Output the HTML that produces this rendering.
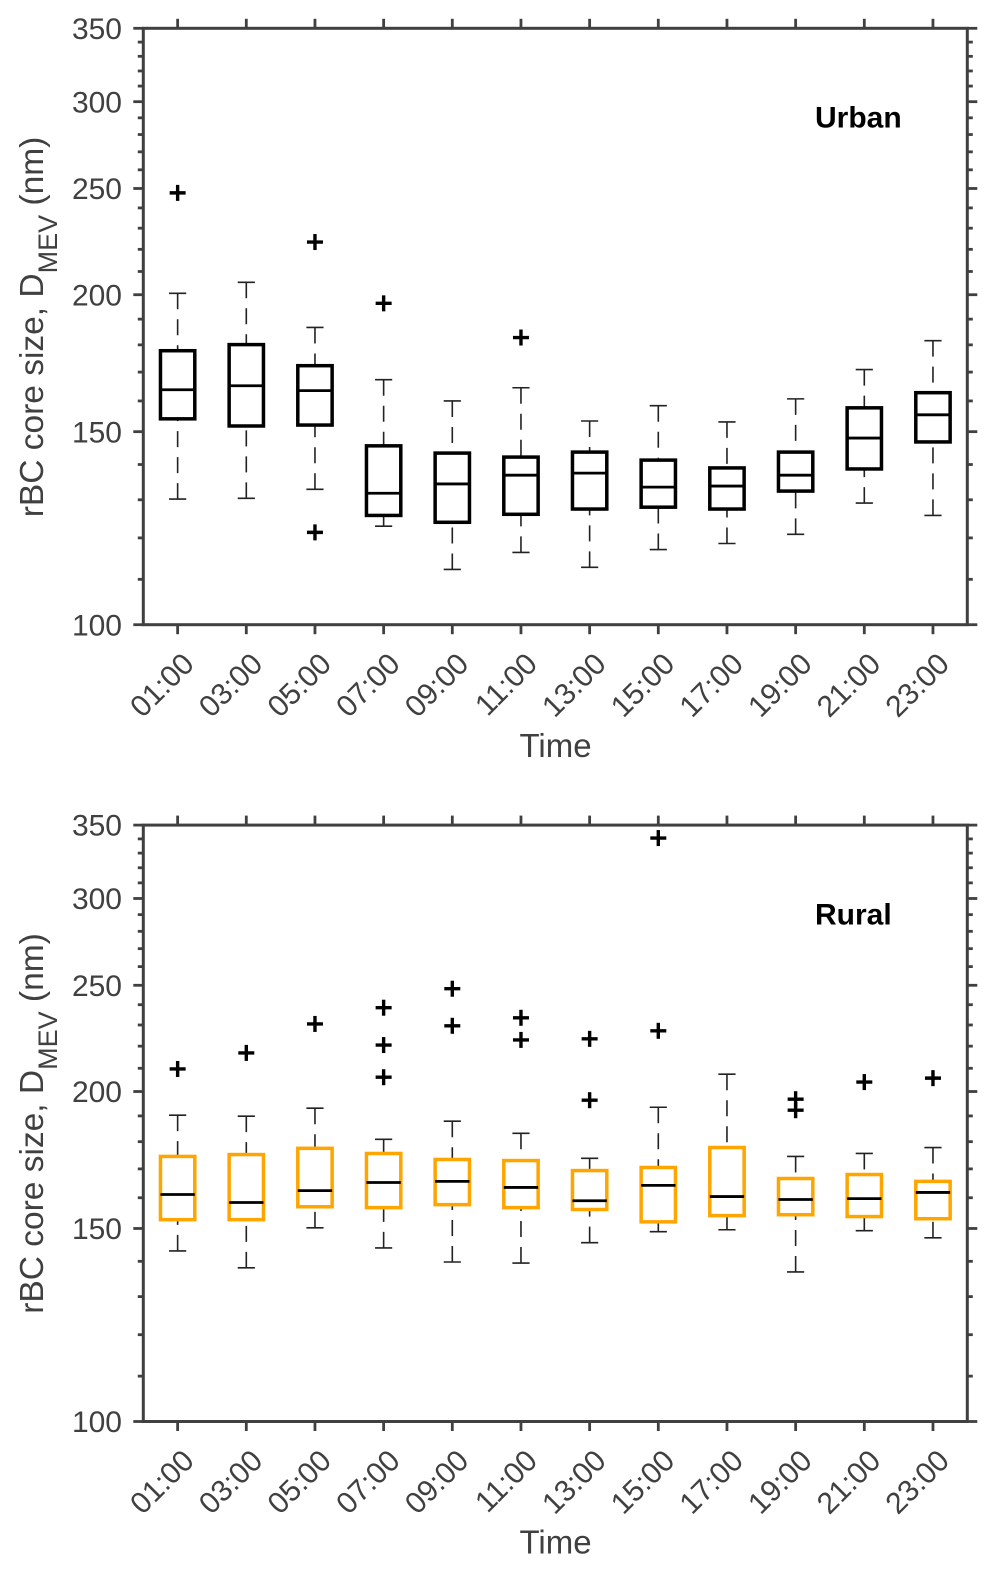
<!DOCTYPE html>
<html lang="en">
<head>
<meta charset="utf-8">
<title>rBC core size by time of day</title>
<style>
html,body{margin:0;padding:0;background:#fff;}
svg{display:block;}
text{font-family:"Liberation Sans",Arial,sans-serif;}
</style>
</head>
<body>
<svg id="figure" xmlns="http://www.w3.org/2000/svg" width="996" height="1573" viewBox="0 0 996 1573">
  <rect x="0" y="0" width="996" height="1573" fill="#ffffff"/>
  <g id="panel-urban">
    <text x="815" y="127.5" font-size="30" font-weight="bold" fill="#000">Urban</text>
    <text x="555.5" y="757" font-size="33" fill="#404040" text-anchor="middle">Time</text>
    <text transform="translate(43,327) rotate(-90)" font-size="33.5" fill="#404040" text-anchor="middle" xml:space="preserve">rBC core size, D<tspan font-size="27" dy="14">MEV</tspan><tspan dy="-14"> (nm)</tspan></text>
  </g>
  <g id="panel-rural">
    <text x="815" y="924.5" font-size="30" font-weight="bold" fill="#000">Rural</text>
    <text x="555.5" y="1553.5" font-size="33" fill="#404040" text-anchor="middle">Time</text>
    <text transform="translate(43,1123.5) rotate(-90)" font-size="33.5" fill="#404040" text-anchor="middle" xml:space="preserve">rBC core size, D<tspan font-size="27" dy="14">MEV</tspan><tspan dy="-14"> (nm)</tspan></text>
  </g>
</svg>
<script>
// Shared axis data
const timeLabels = ["01:00","03:00","05:00","07:00","09:00","11:00","13:00","15:00","17:00","19:00","21:00","23:00"];
const yMajorTicks = [100,150,200,250,300,350];
const yMinorTicks = [110,120,130,140,160,170,180,190,210,220,230,240,260,270,280,290,310,320,330,340];

// Urban series
const urbanWhiskerHigh = [200.6,205.3,186.7,167.3,160.0,164.5,153.4,158.4,153.1,160.7,170.9,181.6];
const urbanQ3 = [177.8,180.1,172.3,145.6,143.4,142.2,143.7,141.3,139.0,143.7,157.7,162.8];
const urbanMedian = [163.8,165.2,163.5,131.8,134.4,136.9,137.5,133.5,133.8,136.9,148.0,155.4];
const urbanQ1 = [154.1,151.8,152.1,125.8,124.0,126.1,127.5,128.0,127.5,132.4,138.7,146.8];
const urbanWhiskerLow = [130.2,130.4,132.9,123.0,112.3,116.4,112.8,117.1,118.6,120.9,129.1,125.8];
const urbanOutliers = [[247.7],[],[223.4,121.4],[196.4],[],[182.8],[],[],[],[],[],[]];

// Rural series
const ruralWhiskerHigh = [190.3,189.9,193.1,180.9,187.9,183.2,173.8,193.5,207.4,174.5,175.6,177.8];
const ruralQ3 = [174.5,175.2,177.5,175.6,173.4,173.0,169.4,170.5,177.8,166.6,168.0,165.6];
const ruralMedian = [161.1,158.4,162.4,165.2,165.6,163.5,159.0,164.2,160.4,159.4,159.7,161.8];
const ruralQ1 = [152.8,152.8,157.0,156.7,157.7,156.7,156.1,152.1,154.1,154.4,153.8,153.1];
const ruralWhiskerLow = [143.1,138.1,150.2,144.0,139.8,139.5,145.6,149.0,149.6,136.9,149.3,147.1];
const ruralOutliers = [[209.7],[216.9],[230.5],[238.5,220.5,206.1],[248.2,229.6],[233.5,222.9],[223.4,196.4],[340.6,227.2],[],[196.8,192.3],[204.0],[205.7]];

const SVG_NS = "http://www.w3.org/2000/svg";
const AXIS_COLOR = "#404040";
const PLOT_LEFT = 143.3;
const PLOT_RIGHT = 967.3;
const PLOT_HEIGHT = 596.4;
const Y_MIN = 100;
const Y_MAX = 350;

function xScale(index) {
  const step = (PLOT_RIGHT - PLOT_LEFT) / timeLabels.length;
  return PLOT_LEFT + step * (index + 0.5);
}

function yScale(value, plotBottom) {
  const frac = Math.log10(value / Y_MIN) / Math.log10(Y_MAX / Y_MIN);
  return plotBottom - frac * PLOT_HEIGHT;
}

function makeLine(parent, x1, y1, x2, y2, stroke, width) {
  const el = document.createElementNS(SVG_NS, "line");
  el.setAttribute("x1", x1);
  el.setAttribute("y1", y1);
  el.setAttribute("x2", x2);
  el.setAttribute("y2", y2);
  el.setAttribute("stroke", stroke);
  el.setAttribute("stroke-width", width);
  parent.appendChild(el);
  return el;
}

function makeGroup(parent) {
  const el = document.createElementNS(SVG_NS, "g");
  parent.appendChild(el);
  return el;
}

function drawAxes(panel, prefix, plotTop, plotBottom) {
  const axes = makeGroup(panel);
  
  

  const frame = document.createElementNS(SVG_NS, "rect");
  frame.setAttribute("x", PLOT_LEFT);
  frame.setAttribute("y", plotTop);
  frame.setAttribute("width", PLOT_RIGHT - PLOT_LEFT);
  frame.setAttribute("height", plotBottom - plotTop);
  frame.setAttribute("fill", "none");
  frame.setAttribute("stroke", AXIS_COLOR);
  frame.setAttribute("stroke-width", "3");
  
  
  axes.appendChild(frame);

  yMajorTicks.forEach(function (value) {
    const y = yScale(value, plotBottom);
    const tickLeft = makeLine(axes, PLOT_LEFT - 10, y, PLOT_LEFT, y, AXIS_COLOR, 2.8);
    
    
    const tickRight = makeLine(axes, PLOT_RIGHT, y, PLOT_RIGHT + 10, y, AXIS_COLOR, 2.8);
    
    
    const label = document.createElementNS(SVG_NS, "text");
    label.setAttribute("x", 122);
    label.setAttribute("y", y + 10.6);
    label.setAttribute("font-size", "30");
    label.setAttribute("fill", AXIS_COLOR);
    label.setAttribute("text-anchor", "end");
    
    
    label.textContent = String(value);
    axes.appendChild(label);
  });

  yMinorTicks.forEach(function (value) {
    const y = yScale(value, plotBottom);
    const minorLeft = makeLine(axes, PLOT_LEFT - 5.5, y, PLOT_LEFT, y, AXIS_COLOR, 2.8);
    
    
    const minorRight = makeLine(axes, PLOT_RIGHT, y, PLOT_RIGHT + 5.5, y, AXIS_COLOR, 2.8);
    
    
  });

  timeLabels.forEach(function (time, i) {
    const x = xScale(i);
    const tickBottom = makeLine(axes, x, plotBottom, x, plotBottom + 9.5, AXIS_COLOR, 2.8);
    
    
    const tickTop = makeLine(axes, x, plotTop - 9.5, x, plotTop, AXIS_COLOR, 2.8);
    
    
    const label = document.createElementNS(SVG_NS, "text");
    label.setAttribute("transform", "translate(" + (x + 18) + "," + (plotBottom + 41) + ") rotate(-45)");
    label.setAttribute("font-size", "30");
    label.setAttribute("fill", AXIS_COLOR);
    label.setAttribute("text-anchor", "end");
    
    
    label.textContent = time;
    axes.appendChild(label);
  });
}

function drawBoxes(panel, prefix, plotBottom, boxColor, low, q1, median, q3, high, outliers) {
  const step = (PLOT_RIGHT - PLOT_LEFT) / timeLabels.length;
  const boxWidth = step * 0.5;
  const capWidth = step * 0.25;
  timeLabels.forEach(function (time, i) {
    const x = xScale(i);
    const group = makeGroup(panel);
    
    

    const yLow = yScale(low[i], plotBottom);
    const yQ1 = yScale(q1[i], plotBottom);
    const yMed = yScale(median[i], plotBottom);
    const yQ3 = yScale(q3[i], plotBottom);
    const yHigh = yScale(high[i], plotBottom);

    const upper = makeLine(group, x, yHigh, x, yQ3, "#222", 1.6);
    upper.setAttribute("stroke-dasharray", "16 10");
    
    
    const lower = makeLine(group, x, yLow, x, yQ1, "#222", 1.6);
    lower.setAttribute("stroke-dasharray", "16 10");
    
    

    const capHigh = makeLine(group, x - capWidth / 2, yHigh, x + capWidth / 2, yHigh, "#222", 1.6);
    
    
    const capLow = makeLine(group, x - capWidth / 2, yLow, x + capWidth / 2, yLow, "#222", 1.6);
    
    

    const box = document.createElementNS(SVG_NS, "rect");
    box.setAttribute("x", x - boxWidth / 2);
    box.setAttribute("y", yQ3);
    box.setAttribute("width", boxWidth);
    box.setAttribute("height", yQ1 - yQ3);
    box.setAttribute("fill", "none");
    box.setAttribute("stroke", boxColor);
    box.setAttribute("stroke-width", "3.5");
    
    
    group.appendChild(box);

    const med = makeLine(group, x - boxWidth / 2, yMed, x + boxWidth / 2, yMed, "#000", 2.8);
    
    

    outliers[i].forEach(function (value, k) {
      const y = yScale(value, plotBottom);
      const mark = makeGroup(group);
      
      
      makeLine(mark, x - 8, y, x + 8, y, "#000", 3.4);
      makeLine(mark, x, y - 8, x, y + 8, "#000", 3.4);
    });
  });
}

const urbanPanel = document.getElementById("panel-urban");
const ruralPanel = document.getElementById("panel-rural");

drawAxes(urbanPanel, "urban", 28.3, 624.7);
drawBoxes(urbanPanel, "urban", 624.7, "#000000", urbanWhiskerLow, urbanQ1, urbanMedian, urbanQ3, urbanWhiskerHigh, urbanOutliers);

drawAxes(ruralPanel, "rural", 825.1, 1421.5);
drawBoxes(ruralPanel, "rural", 1421.5, "#FFA500", ruralWhiskerLow, ruralQ1, ruralMedian, ruralQ3, ruralWhiskerHigh, ruralOutliers);
</script>
</body>
</html>
